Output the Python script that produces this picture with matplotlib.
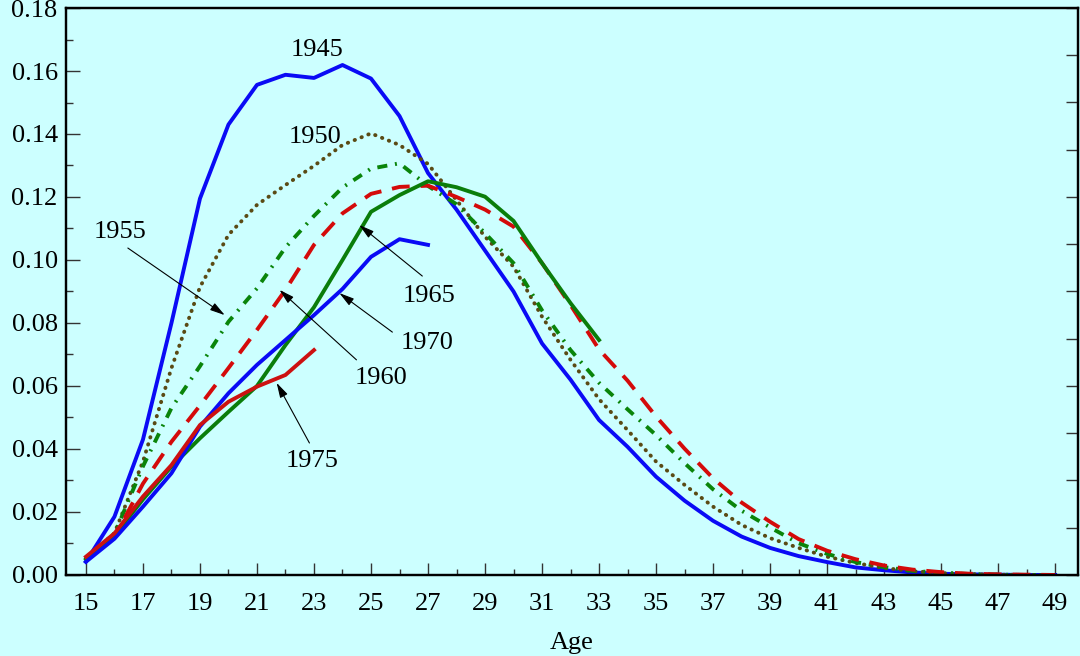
import numpy as np
import matplotlib.pyplot as plt

plt.rcParams['font.family'] = ['Liberation Serif', 'DejaVu Serif']

ages_full = list(range(15, 50))
ages_1965 = list(range(15, 34))
ages_1970 = list(range(15, 28))
ages_1975 = list(range(15, 24))

rate_1945 = [0.0042, 0.0185, 0.0430, 0.0800, 0.1195, 0.1430, 0.1556, 0.1588, 0.1578, 0.1619,
             0.1576, 0.1457, 0.1276, 0.1160, 0.1030, 0.0900, 0.0735, 0.0620, 0.0492, 0.0407,
             0.0312, 0.0236, 0.0172, 0.0122, 0.0086, 0.0060, 0.0041, 0.0024, 0.0015, 0.0008,
             0.0004, 0.0002, 0.0001, 0.0000, 0.0000]
rate_1950 = [0.0052, 0.0133, 0.0360, 0.0657, 0.0914, 0.1080, 0.1175, 0.1238, 0.1299, 0.1365,
             0.1402, 0.1365, 0.1305, 0.1190, 0.1074, 0.0979, 0.0820, 0.0683, 0.0558, 0.0460,
             0.0360, 0.0286, 0.0217, 0.0159, 0.0117, 0.0086, 0.0058, 0.0038, 0.0022, 0.0012,
             0.0006, 0.0003, 0.0001, 0.0000, 0.0000]
rate_1955 = [0.0050, 0.0130, 0.0345, 0.0530, 0.0663, 0.0804, 0.0910, 0.1040, 0.1140, 0.1230,
             0.1290, 0.1307, 0.1235, 0.1177, 0.1085, 0.0990, 0.0840, 0.0714, 0.0610, 0.0526,
             0.0444, 0.0355, 0.0272, 0.0204, 0.0151, 0.0101, 0.0067, 0.0041, 0.0025, 0.0013,
             0.0007, 0.0003, 0.0001, 0.0000, 0.0000]
rate_1960 = [0.0050, 0.0120, 0.0290, 0.0423, 0.0538, 0.0657, 0.0778, 0.0905, 0.1048, 0.1148,
             0.1210, 0.1232, 0.1236, 0.1200, 0.1160, 0.1106, 0.0990, 0.0857, 0.0716, 0.0617,
             0.0503, 0.0401, 0.0307, 0.0230, 0.0169, 0.0114, 0.0077, 0.0050, 0.0030, 0.0017,
             0.0009, 0.0004, 0.0002, 0.0001, 0.0000]
rate_1965 = [0.0050, 0.0125, 0.0240, 0.0344, 0.0434, 0.0518, 0.0600, 0.0730, 0.0850, 0.1000,
             0.1153, 0.1206, 0.1250, 0.1231, 0.1201, 0.1124, 0.0990, 0.0863, 0.0746]
rate_1970 = [0.0042, 0.0115, 0.0217, 0.0323, 0.0471, 0.0577, 0.0667, 0.0746, 0.0825, 0.0908,
             0.1010, 0.1066, 0.1048]
rate_1975 = [0.0058, 0.0132, 0.0249, 0.0349, 0.0476, 0.0550, 0.0598, 0.0635, 0.0714]

fig = plt.figure(figsize=(10.8, 6.56), dpi=100)
fig.patch.set_facecolor('#ccffff')
ax = fig.add_axes([0.0611, 0.1235, 0.9370, 0.8643])
ax.set_facecolor('#ccffff')

lw = 2.8
ax.plot(ages_full, rate_1945, color='#0a0af5', lw=lw)
ax.plot(ages_full, rate_1950, color='#5a4a14', lw=lw, linestyle=(0, (0.1, 1.8)),
        dash_capstyle='round')
ax.plot(ages_full, rate_1955, color='#0a840a', lw=lw, linestyle=(0, (2.6, 2.0, 0.5, 2.0)))
ax.plot(ages_full, rate_1960, color='#d40a0a', lw=lw, linestyle=(0, (4.6, 2.8)))
ax.plot(ages_1965, rate_1965, color='#0a7d0a', lw=lw)
ax.plot(ages_1970, rate_1970, color='#0a0af5', lw=lw)
ax.plot(ages_1975, rate_1975, color='#cc1111', lw=lw)

fs = 19
ax.text(23.09, 0.1667, '1945', fontsize=fs, ha='center', va='center')
ax.text(23.02, 0.1390, '1950', fontsize=fs, ha='center', va='center')
ax.text(16.19, 0.1089, '1955', fontsize=fs, ha='center', va='center')
ax.text(25.36, 0.0625, '1960', fontsize=fs, ha='center', va='center')
ax.text(27.04, 0.0886, '1965', fontsize=fs, ha='center', va='center')
ax.text(26.97, 0.0737, '1970', fontsize=fs, ha='center', va='center')
ax.text(22.95, 0.0362, '1975', fontsize=fs, ha='center', va='center')

arrows = [((16.47, 0.1038), (19.87, 0.0825)),
          ((24.49, 0.0683), (21.79, 0.0905)),
          ((26.80, 0.0949), (24.59, 0.1111)),
          ((25.75, 0.0771), (23.89, 0.0895)),
          ((22.84, 0.0419), (21.69, 0.0610))]
for start, tip in arrows:
    ax.annotate('', xy=tip, xytext=start,
                arrowprops=dict(arrowstyle='-|>,head_length=0.9,head_width=0.25',
                                color='black', lw=0.8, shrinkA=0, shrinkB=0))

ax.set_xlim(14.3, 49.8)
ax.set_ylim(0, 0.18)
ax.set_xticks(range(15, 50, 2))
ax.set_xticks(range(16, 50, 2), minor=True)
ax.set_yticks(np.arange(0, 0.181, 0.02))
ax.set_yticks(np.arange(0.01, 0.18, 0.02), minor=True)
ax.set_yticklabels(['%.2f' % v for v in np.arange(0, 0.181, 0.02)])
ax.tick_params(which='both', direction='in', top=False, right=False,
               labelsize=fs, width=1.0, color='#333333')
ax.tick_params(axis='x', which='major', length=9, pad=13)
ax.tick_params(axis='x', which='minor', length=4.5)
ax.tick_params(axis='y', which='major', length=10, pad=6)
ax.tick_params(axis='y', which='minor', length=5)
ax.set_xlabel('Age', fontsize=fs, labelpad=12)

ax2 = ax.twinx()
ax2.set_ylim(0, 0.18)
ax2.set_yticks(np.arange(0, 0.181, 0.015))
ax2.tick_params(axis='y', direction='in', length=9, width=1.0, color='#333333',
                labelright=False)

for a in (ax, ax2):
    for side in a.spines.values():
        side.set_linewidth(1.6)
        side.set_color('black')

fig.savefig('out.png', dpi=100, facecolor=fig.get_facecolor())
